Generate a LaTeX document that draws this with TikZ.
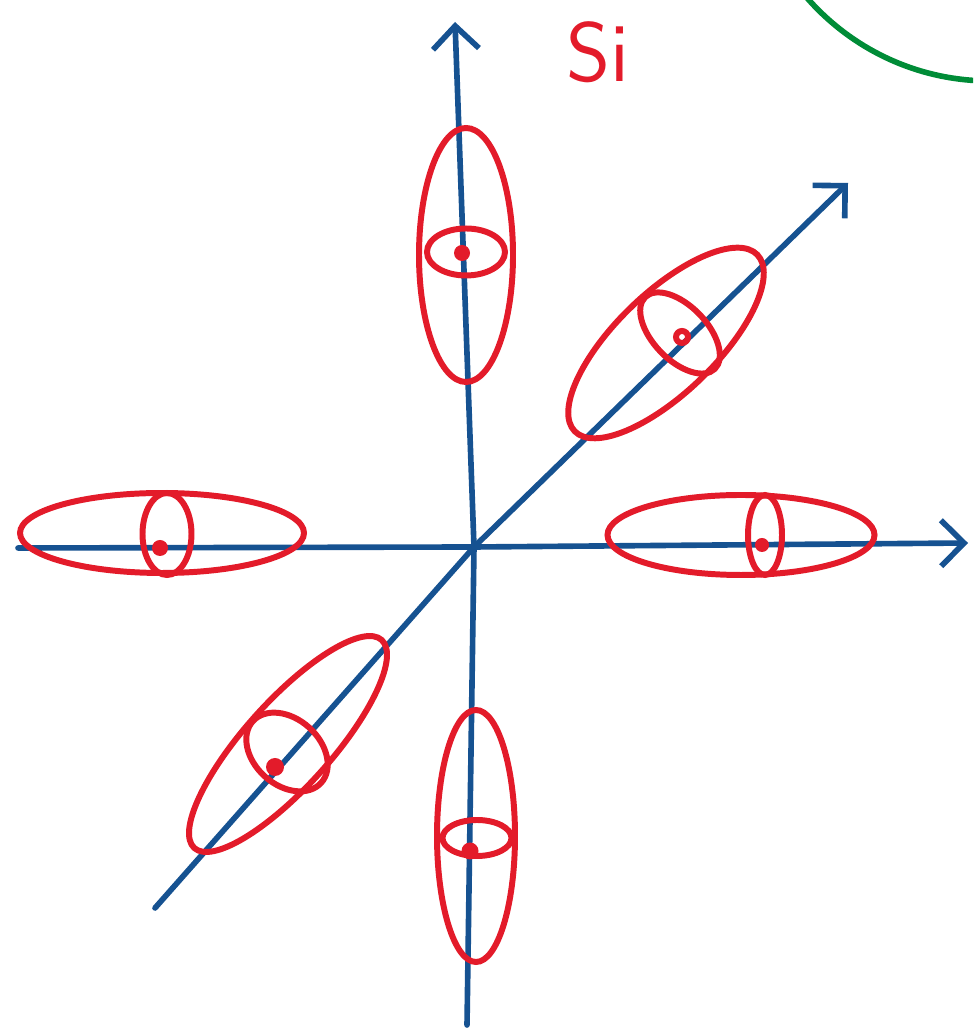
\documentclass[tikz,border=0pt]{standalone}
\usepackage{tikz}
\usetikzlibrary{arrows.meta}

\definecolor{axisblue}{RGB}{22,82,145}
\definecolor{orbred}{RGB}{227,27,42}
\definecolor{arcgreen}{RGB}{0,140,55}

\begin{document}
\begin{tikzpicture}[
    axis/.style={axisblue, line width=1.6pt, line cap=round, line join=round},
    tip/.style={-{Straight Barb[length=2.3mm, width=4.6mm, line width=1.6pt]}},
    orb/.style={orbred, line width=1.7pt},
    dot/.style={fill=orbred}
]
                \clip (0,0) rectangle (9.73,10.31);
                % axes
                \coordinate (O) at (4.74,4.84);
                \coordinate (xl) at (0.18,4.83);
                \coordinate (xr) at (9.68,4.88);
                \coordinate (yb) at (4.67,0.06);
                \coordinate (yt) at (4.55,10.09);
                \coordinate (dl) at (1.55,1.23);
                \coordinate (dr) at (8.48,8.48);
                \draw[axis, tip] (xl) -- (O) -- (xr);
                \draw[axis, tip] (yb) -- (O) -- (yt);
                \draw[axis, tip] (dl) -- (O) -- (dr);
                % orbitals
                \draw[orb] (4.66,7.76) ellipse [x radius=0.47, y radius=1.27];
                \draw[orb] (4.66,7.79) ellipse [x radius=0.39, y radius=0.235];
                \fill[dot] (4.62,7.78) circle (0.08);
                \draw[orb] (4.76,1.95) ellipse [x radius=0.39, y radius=1.26];
                \draw[orb] (4.77,1.93) ellipse [x radius=0.345, y radius=0.18];
                \fill[dot] (4.70,1.80) circle (0.085);
                \draw[orb] (1.62,4.98) ellipse [x radius=1.42, y radius=0.4];
                \draw[orb] (1.67,4.97) ellipse [x radius=0.245, y radius=0.41];
                \fill[dot] (1.60,4.83) circle (0.08);
                \draw[orb] (7.41,4.96) ellipse [x radius=1.335, y radius=0.4];
                \draw[orb] (7.65,4.96) ellipse [x radius=0.17, y radius=0.4];
                \fill[dot] (7.62,4.86) circle (0.07);
                \draw[orb, rotate around={44:(6.66,6.88)}] (6.66,6.88) ellipse [x radius=1.27, y radius=0.5];
                \draw[orb, rotate around={44:(6.80,6.98)}] (6.80,6.98) ellipse [x radius=0.27, y radius=0.5];
                \draw[orb] (6.82,6.94) circle (0.06);
                \draw[orb, rotate around={48:(2.88,2.87)}] (2.88,2.87) ellipse [x radius=1.40, y radius=0.43];
                \draw[orb, rotate around={48:(2.87,2.79)}] (2.87,2.79) ellipse [x radius=0.33, y radius=0.46];
                \fill[dot] (2.75,2.64) circle (0.09);
                % label and arc
                \node[orbred, font=\fontsize{24}{28}\selectfont\sffamily] (si) at (5.98,9.79) {Si};
                \draw[arcgreen, line width=1.6pt] (9.90,11.93) circle (2.43);
\end{tikzpicture}
\end{document}
